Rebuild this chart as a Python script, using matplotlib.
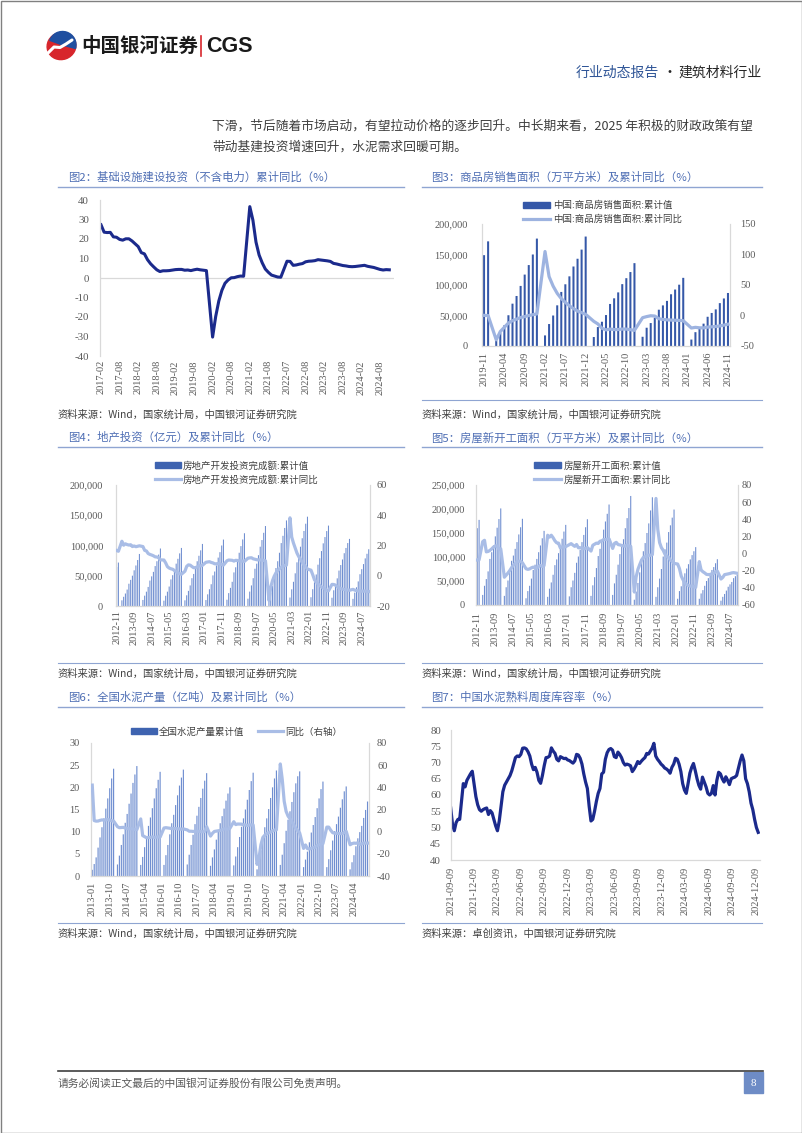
import numpy as np
import matplotlib
matplotlib.use('Agg')
import matplotlib.pyplot as plt
from matplotlib.patches import Rectangle, Wedge, Ellipse
from matplotlib.lines import Line2D

plt.rcParams['font.family'] = ['Noto Sans CJK SC', 'DejaVu Sans']
plt.rcParams['axes.unicode_minus'] = False

W, H = 802, 1133
NUM_FONT = 'Liberation Serif'
GRID_GREY = '#D9D9D9'
TICK_GREY = '#595959'
TITLE_BLUE = '#4E6EB4'
RULE_BLUE = '#8FA5D2'
BAR_LIGHT = '#6F8ED0'

# ---------------- data ----------------
# 图2 infrastructure (ex power) cumulative yoy, 2017-02 .. 2024-11, None = January (not published)
infra_yoy = [
    27.3, 23.5, 23.3, 23.4, 21.1, 20.9, 19.8, 19.4, 20.1, 20.1, 19.0,
    None, 16.1, 13.0, 12.4, 9.4, 7.3, 5.7, 4.2, 3.3, 3.7, 3.7, 3.8,
    None, 4.3, 4.4, 4.4, 4.0, 4.1, 3.8, 4.2, 4.5, 4.2, 4.0, 3.8,
    None, -30.3, -19.7, -11.8, -6.3, -2.7, -1.0, 0.1, 0.2, 0.7, 1.0, 0.9,
    None, 36.6, 29.7, 18.4, 11.8, 7.8, 4.6, 2.9, 1.5, 1.0, 0.5, 0.4,
    None, 8.6, 8.5, 6.5, 6.7, 7.1, 7.4, 8.3, 8.6, 8.7, 8.9, 9.4,
    None, 9.0, 8.8, 8.5, 7.5, 7.2, 6.8, 6.4, 6.2, 5.9, 5.8, 5.9,
    None, 6.3, 6.5, 6.0, 5.7, 5.4, 4.9, 4.4, 4.1, 4.3, 4.2,
]
infra_ticks = ['2017-02', '2017-08', '2018-02', '2018-08', '2019-02', '2019-08',
               '2020-02', '2020-08', '2021-02', '2021-08', '2022-07', '2022-08',
               '2023-02', '2023-08', '2024-02', '2024-08']

# 图3 commodity housing sales area, 2019-11 .. 2024-11
sales_area = [
    148905, 171558,
    None, 8475, 21978, 33973, 50420, 69404, 81994, 98486, 117073, 132674, 150011, 176086,
    None, 17363, 36007, 49979, 66672, 88635, 101179, 114193, 130332, 143041, 158034, 179433,
    None, 14709, 31046, 39768, 50738, 68923, 78178, 87890, 101422, 111179, 121250, 135837,
    None, 15133, 29946, 37636, 46440, 59515, 66563, 73949, 84806, 92579, 100509, 111735,
    None, 10566, 22668, 29252, 36642, 47916, 54160, 60015, 70284, 77930, 86924,
]
sales_yoy = [
    0.2, -0.1,
    None, -39.9, -26.3, -19.3, -12.3, -8.4, -6.0, -3.3, -1.8, 0.0, 1.3, 2.6,
    None, 104.9, 63.8, 48.1, 36.3, 27.7, 21.5, 15.9, 11.3, 7.3, 4.8, 1.9,
    None, -9.6, -13.8, -20.9, -23.6, -22.2, -23.1, -23.0, -22.2, -22.3, -23.3, -24.3,
    None, -3.6, -1.8, -0.4, -0.9, -5.3, -6.5, -7.1, -7.5, -7.8, -8.0, -8.5,
    None, -20.5, -19.4, -20.2, -20.3, -19.0, -18.6, -18.0, -17.1, -15.8, -14.3,
]
sales_ticks = ['2019-11', '2020-04', '2020-09', '2021-02', '2021-07', '2021-12', '2022-05',
               '2022-10', '2023-03', '2023-08', '2024-01', '2024-06', '2024-11']

# 图4 real estate investment, 2012-11 .. 2024-11
re_inv = [
    64469, 71804,
    None, 9378, 15227, 20641, 27160, 36828, 43168, 50120, 59000, 67000, 76000, 86013,
    None, 10009, 17064, 23670, 31523, 42019, 48985, 56423, 66000, 74000, 85000, 95036,
    None, 8786, 16914, 23669, 32167, 43955, 50960, 58331, 70000, 78000, 87000, 95979,
    None, 9387, 17677, 25000, 34000, 46000, 53000, 62000, 74000, 83000, 92000, 102581,
    None, 9854, 19292, 27732, 36000, 50610, 57000, 67000, 80000, 89000, 100000, 109799,
    None, 10357, 21291, 30000, 40000, 55531, 64000, 74000, 88000, 99000, 110000, 120264,
    None, 12090, 23803, 34000, 46000, 61609, 70000, 84000, 98000, 109000, 121000, 132194,
    None, 10115, 21963, 33000, 45920, 62780, 74000, 88000, 104000, 116000, 129000, 141443,
    None, 13986, 27576, 40000, 54000, 72179, 84000, 98000, 112000, 124000, 136000, 147602,
    None, 14499, 27765, 39154, 52134, 68314, 79000, 90809, 103559, 113945, 123863, 132895,
    None, 13669, 25974, 35514, 45701, 58550, 67717, 76900, 87269, 95922, 104045, 110913,
    None, 11842, 22082, 30928, 40632, 52529, 60877, 69284, 78680, 86309, 93836,
]
re_yoy = [
    16.7, 16.2,
    None, 22.8, 20.2, 21.1, 20.6, 20.3, 20.5, 19.3, 19.7, 19.2, 19.5, 19.8,
    None, 19.3, 16.8, 16.4, 14.7, 14.1, 13.7, 13.2, 12.5, 12.4, 11.9, 10.5,
    None, 10.4, 8.5, 6.0, 5.1, 4.6, 4.3, 3.5, 2.6, 2.0, 1.3, 1.0,
    None, 3.0, 6.2, 7.2, 7.0, 6.1, 5.3, 5.4, 5.8, 6.6, 6.5, 6.9,
    None, 8.9, 9.1, 9.3, 8.8, 8.5, 7.9, 7.9, 8.1, 7.8, 7.5, 7.0,
    None, 9.9, 10.4, 10.3, 10.2, 9.7, 10.2, 10.1, 9.9, 9.7, 9.7, 9.5,
    None, 11.6, 11.8, 11.9, 11.2, 10.9, 10.6, 10.5, 10.5, 10.3, 10.2, 9.9,
    None, -16.3, -7.7, -3.3, -0.3, 1.9, 3.4, 4.6, 5.6, 6.3, 6.8, 7.0,
    None, 38.3, 25.6, 21.6, 18.3, 15.0, 12.7, 10.9, 8.8, 7.2, 6.0, 4.4,
    None, 3.7, 0.7, -2.7, -4.0, -5.4, -6.4, -7.4, -8.0, -8.8, -9.8, -10.0,
    None, -5.7, -5.8, -6.2, -7.2, -7.9, -8.5, -8.8, -9.1, -9.3, -9.4, -9.6,
    None, -9.0, -9.5, -9.8, -10.1, -10.1, -10.2, -10.2, -10.1, -10.3, -10.4,
]
decade_ticks = ['2012-11', '2013-09', '2014-07', '2015-05', '2016-03', '2017-01', '2017-11',
                '2018-09', '2019-07', '2020-05', '2021-03', '2022-01', '2022-11', '2023-09', '2024-07']

# 图5 new housing starts, 2012-11 .. 2024-11
starts_area = [
    160000, 177334,
    None, 21000, 40000, 54000, 70000, 96000, 110000, 124000, 143000, 161000, 179000, 201208,
    None, 19000, 37000, 51000, 68000, 92000, 103000, 117000, 131000, 147000, 162000, 179592,
    None, 14000, 29000, 40000, 55000, 73000, 84000, 96000, 110000, 124000, 139000, 154454,
    None, 17000, 34000, 47000, 63000, 83000, 95000, 108000, 123000, 138000, 153000, 166928,
    None, 18000, 37000, 51000, 67000, 88000, 101000, 115000, 131000, 146000, 162000, 178654,
    None, 19000, 41000, 58000, 77000, 102000, 117000, 135000, 157000, 174000, 190000, 209342,
    None, 21000, 45000, 63000, 84000, 106000, 121000, 137000, 160000, 181000, 202000, 227154,
    None, 11000, 28000, 46000, 68000, 97000, 112000, 129000, 150000, 170000, 197000, 224433,
    None, 17000, 37000, 55000, 75000, 101000, 116000, 130000, 152000, 166000, 182000, 198895,
    None, 13000, 29000, 39000, 51000, 66000, 76000, 85000, 95000, 104000, 112000, 120587,
    None, 13000, 24000, 31000, 40000, 50000, 56000, 63000, 73000, 79000, 87000, 95376,
    None, 9000, 17000, 23000, 30000, 38000, 43000, 48000, 56000, 60000, 63000,
]
starts_yoy = [
    -7.5, -7.3,
    None, 14.0, 15.5, 2.0, 2.5, 3.7, 5.5, 7.6, 8.9, 9.0, 5.0, 5.5,
    None, -27.6, -25.2, -22.7, -19.8, -16.4, -13.3, -12.1, -9.3, -8.9, -9.0, -10.7,
    None, -17.7, -18.4, -17.9, -16.6, -15.8, -16.8, -16.8, -15.0, -13.9, -15.0, -14.0,
    None, 21.4, 19.2, 21.4, 18.5, 14.9, 12.5, 12.2, 6.7, 7.7, 7.6, 8.1,
    None, 10.4, 11.6, 9.9, 8.4, 10.6, 6.8, 6.7, 7.0, 5.6, 6.0, 7.0,
    None, 2.9, 9.7, 10.9, 12.2, 11.8, 14.4, 14.9, 16.4, 16.3, 16.8, 17.2,
    None, 6.0, 11.9, 13.1, 10.5, 10.1, 9.5, 8.9, 8.6, 10.0, 8.6, 8.5,
    None, -44.9, -27.2, -18.4, -12.8, -7.6, -4.5, -3.6, -3.4, -1.8, -2.0, -1.2,
    None, 64.3, 28.2, 12.8, 6.9, 3.8, -0.9, -3.2, -4.5, -7.7, -9.1, -11.4,
    None, -12.2, -17.5, -26.3, -30.6, -34.4, -36.1, -37.2, -38.0, -37.8, -38.9, -39.4,
    None, -9.4, -19.2, -21.2, -22.6, -24.3, -24.5, -24.4, -23.4, -23.2, -21.2, -20.4,
    None, -29.7, -27.8, -24.6, -24.2, -23.7, -23.2, -22.5, -22.2, -22.6, -23.0,
]

# 图6 cement output (100m t), 2013-01 .. 2024-11
cement_out = [
    1.4, 2.7, 4.2, 6.4, 8.7, 11.0, 13.0, 15.2, 17.5, 19.8, 22.0, 24.2,
    None, 2.6, 4.6, 7.0, 9.4, 12.0, 14.0, 16.3, 18.6, 21.0, 22.9, 24.8,
    None, 2.5, 4.3, 6.5, 8.8, 11.3, 13.2, 15.3, 17.5, 19.8, 21.7, 23.5,
    None, 2.5, 4.7, 7.0, 9.4, 11.9, 13.8, 16.0, 18.2, 20.4, 22.2, 24.0,
    None, 2.6, 4.8, 7.0, 9.3, 11.7, 13.6, 15.6, 17.6, 19.7, 21.5, 23.2,
    None, 2.3, 4.2, 6.0, 8.2, 10.3, 11.9, 13.5, 15.2, 17.0, 18.6, 20.0,
    None, 2.4, 4.4, 6.5, 8.8, 11.1, 13.0, 15.0, 17.2, 19.4, 21.4, 23.3,
    None, 1.5, 3.5, 5.8, 8.4, 11.0, 13.0, 15.1, 17.6, 20.0, 22.0, 23.8,
    None, 2.5, 4.8, 7.4, 10.2, 12.7, 14.6, 16.7, 18.9, 20.9, 22.5, 23.6,
    None, 2.0, 3.7, 5.5, 7.6, 9.8, 11.5, 13.3, 15.3, 17.5, 19.6, 21.3,
    None, 2.0, 3.8, 5.8, 8.0, 10.1, 11.7, 13.4, 15.4, 17.3, 19.1, 20.2,
    None, 1.5, 3.1, 4.7, 6.7, 8.5, 9.9, 11.3, 13.1, 14.9, 16.8,
]
cement_yoy = [
    42.0, 10.0, 9.5, 9.6, 10.2, 10.6, 10.4, 10.7, 11.0, 10.5, 9.8, 9.6,
    None, 4.5, 3.6, 3.7, 3.9, 3.3, 2.9, 2.5, 2.8, 2.3, 2.0, 1.8,
    None, 11.5, -3.5, -4.5, -5.5, -5.3, -5.2, -4.7, -5.2, -4.9, -4.7, -4.9,
    None, 3.3, 3.6, 3.4, 3.1, 2.8, 2.7, 2.9, 2.6, 2.5, 2.3, 2.5,
    None, 1.6, 0.4, 0.4, 0.2, 0.4, 0.5, 0.3, 0.0, -0.1, 0.2, 4.5,
    None, -4.0, -1.5, 0.2, 0.5, 0.9, 1.1, 1.6, 2.6, 2.5, 2.3, 3.0,
    None, 9.0, 6.4, 6.9, 6.9, 6.8, 6.1, 6.0, 5.6, 6.0, 6.1, 6.1,
    None, -29.5, -23.9, -11.9, -5.2, -3.2, -1.8, -1.1, -0.3, 0.7, 1.4, 1.6,
    None, 61.1, 47.3, 27.5, 18.3, 14.1, 11.6, 8.7, 6.0, 2.9, 0.9, -1.2,
    None, -15.1, -12.0, -15.3, -15.6, -15.0, -14.5, -14.0, -12.5, -11.8, -11.2, -10.8,
    None, 4.1, 4.1, 1.3, -0.9, -1.4, -1.4, -1.7, -1.7, -1.8, -0.7, 0.3,
    None, -11.8, -10.8, -10.3, -10.5, -10.0, -11.5, -11.0, -10.3, -10.3, -10.3,
]
cement_ticks = ['2013-01', '2013-10', '2014-07', '2015-04', '2016-01', '2016-10', '2017-07', '2018-04',
                '2019-01', '2019-10', '2020-07', '2021-04', '2022-01', '2022-10', '2023-07', '2024-04']

# 图7 weekly clinker inventory ratio (%), weekly from 2021-09-09
clinker_ratio = [
    56, 51, 49, 51.5, 52.5, 52.5, 58, 63.5, 62.5, 64.5, 65.5, 66.5, 67.3, 63.5, 59.5, 57,
    55.5, 55, 55.5, 55.8, 56, 54, 55.2, 54.5, 52.5, 50.5, 49, 52, 56.5, 61, 63, 64,
    65, 66, 67.5, 69.5, 71.5, 72, 71.8, 72.5, 74.4, 74.5, 74.2, 73.3, 72, 69.5, 67.8, 68.5,
    67, 64.5, 63.6, 66, 69, 71.5, 71.6, 72, 74.5, 73.5, 72.8, 71, 70.5, 71.8, 71.5, 71.2,
    71.3, 70.8, 70.6, 70.2, 69.8, 70.5, 72.5, 72.3, 71.3, 69.5, 66.5, 64, 62, 56.5, 52, 52.5,
    55, 58, 60.5, 62, 66.5, 67, 71, 73, 74, 74.3, 73.8, 71.8, 71.5, 73.2, 72.5, 71.5,
    70, 69.2, 69.5, 69.3, 69, 67.2, 68, 69, 70.3, 69.7, 70.4, 71, 71.5, 72.8, 72.6, 73.5,
    74.4, 75.9, 72, 71, 70.3, 69.5, 69, 68.3, 68, 67.5, 66.7, 68.5, 69.5, 71.3, 71, 69.5,
    67.2, 63.5, 61.5, 60.5, 63.5, 66.7, 68.5, 69.7, 67.5, 65, 63, 61.8, 65.5, 64, 62.5, 60.5,
    60, 60.5, 62.9, 60, 64.5, 67, 66.5, 65, 64, 65.6, 64.5, 63.2, 65, 65.3, 65.5, 66,
    68.2, 70.5, 72.3, 70.5, 65, 63.5, 61, 57.5, 55.5, 52.5, 50, 48.5,
]
clinker_start = '2021-09-09'
clinker_ticks = ['2021-09-09', '2021-12-09', '2022-03-09', '2022-06-09', '2022-09-09', '2022-12-09',
                 '2023-03-09', '2023-06-09', '2023-09-09', '2023-12-09', '2024-03-09', '2024-06-09',
                 '2024-09-09', '2024-12-09']


# ---------------- helpers ----------------
def px_rect(x0, y0, x1, y1):
    return [x0 / W, 1 - y1 / H, (x1 - x0) / W, (y1 - y0) / H]


def plot_connected(ax, x, y, **kw):
    y = np.array(y, dtype=float)
    m = ~np.isnan(y)
    ax.plot(np.asarray(x)[m], y[m], **kw)


def bars(ax, x, v, **kw):
    v = np.array(v, dtype=float)
    m = ~np.isnan(v)
    ax.bar(np.asarray(x)[m], v[m], snap=False, linewidth=0, **kw)


def num_labels(ax, ticks, fmt='{:,.0f}', size=7.5, pad=3):
    ax.set_yticks(ticks)
    ax.set_yticklabels([fmt.format(t) for t in ticks], fontfamily=NUM_FONT, fontsize=size, color=TICK_GREY)
    ax.tick_params(axis='y', length=0, pad=pad)


def right_labels(ax2, ticks, pad):
    ax2.set_yticks(ticks)
    ax2.set_yticklabels([str(t) for t in ticks], fontfamily=NUM_FONT, fontsize=7.5, color=TICK_GREY)
    ax2.tick_params(axis='y', length=0, pad=pad)


def month_axis(ax, n, step, labels, pad=4):
    ax.set_xticks(range(0, n, step))
    ax.set_xticklabels(labels, rotation=90, fontfamily=NUM_FONT, fontsize=7.5, color=TICK_GREY)
    ax.tick_params(axis='x', length=0, pad=pad)
    ax.set_xlim(-0.6, n - 0.4)


def frame(ax, sides):
    for s in ax.spines:
        ax.spines[s].set_visible(s in sides)
        ax.spines[s].set_color(GRID_GREY)
        ax.spines[s].set_linewidth(0.9)


def legend(ax, handles, labels, x, y, ncol=1, hl=2.9, colsp=1.4):
    ax.legend(handles, labels, loc='upper left', bbox_to_anchor=(x / W, 1 - y / H),
              bbox_transform=fig.transFigure, frameon=False, fontsize=6.8, ncol=ncol,
              handlelength=hl, handleheight=0.6, handletextpad=0.25, labelspacing=0.45,
              borderpad=0, borderaxespad=0, columnspacing=colsp, labelcolor='#404040')


fig = plt.figure(figsize=(W / 100, H / 100), dpi=100)
page = fig.add_axes([0, 0, 1, 1])
page.set_xlim(0, W)
page.set_ylim(H, 0)
page.axis('off')

# page frame
page.add_patch(Rectangle((0.5, 0.5), W - 1, H - 1, fill=False, edgecolor='#808080', lw=1))

# logo
page.add_patch(Ellipse((61.5, 46), 29, 27, angle=-20, color='#D7262C'))
page.add_patch(Wedge((62.5, 45), 13.5, -160, 15, color='#1F4FA0'))
page.plot([48, 54, 60, 66, 72], [53, 47, 47.5, 44, 40], color='white', lw=2.2, solid_capstyle='round')
page.text(81, 46, '中国银河证券', fontsize=14, fontweight='bold', color='#1A1A1A', va='center')
page.plot([200.5, 200.5], [36, 56], color='#D7262C', lw=1.2)
page.text(206, 46.5, 'CGS', fontsize=15.5, fontweight='bold', color='#1A1A1A', va='center',
          family='Liberation Sans')

# header
page.text(659, 73, '行业动态报告', fontsize=10, color='#2F5597', ha='right', va='center')
page.text(669, 73, '·', fontsize=10, color='#262626', ha='center', va='center')
page.text(762, 73, '建筑材料行业', fontsize=10, color='#262626', ha='right', va='center')

# body text
page.text(212, 126, '下滑，节后随着市场启动，有望拉动价格的逐步回升。中长期来看，2025 年积极的财政政策有望',
          fontsize=9.15, color='#3F3F3F', va='center')
page.text(212, 147, '带动基建投资增速回升，水泥需求回暖可期。', fontsize=9.15, color='#3F3F3F', va='center')

# titles, rules and sources
cols = [(58, 68, 404), (422, 431, 762)]
rows = [(177, 187, 400, 415), (437.5, 447, 663, 674), (697.5, 707, 923, 934)]
titles = [['图2：基础设施建设投资（不含电力）累计同比（%）', '图3：商品房销售面积（万平方米）及累计同比（%）'],
          ['图4：地产投资（亿元）及累计同比（%）', '图5：房屋新开工面积（万平方米）及累计同比（%）'],
          ['图6：全国水泥产量（亿吨）及累计同比（%）', '图7：中国水泥熟料周度库容率（%）']]
src_main = '资料来源：Wind，国家统计局，中国银河证券研究院'
sources = [[src_main, src_main], [src_main, src_main], [src_main, '资料来源：卓创资讯，中国银河证券研究院']]
for ri, (ty, uy, sy, sty) in enumerate(rows):
    for ci, (lx, tx, rx) in enumerate(cols):
        page.text(tx, ty, titles[ri][ci], fontsize=8.2, color=TITLE_BLUE, va='center')
        page.plot([lx, rx], [uy, uy], color=RULE_BLUE, lw=1.0)
        if not (ri == 0 and ci == 0):
            page.plot([lx, rx], [sy, sy], color=RULE_BLUE, lw=0.8)
        page.text(lx, sty, sources[ri][ci], fontsize=7.4, color='#404040', va='center')

# footer
page.plot([58, 763], [1071, 1071], color='#404040', lw=1.2)
page.text(58, 1083, '请务必阅读正文最后的中国银河证券股份有限公司免责声明。', fontsize=7.75, color='#595959',
          va='center')
page.add_patch(Rectangle((744, 1072), 19, 21, color='#6E8CC6'))
page.text(753.5, 1083, '8', fontsize=8, color='white', ha='center', va='center', family=NUM_FONT)

# ---- 图2 ----
ax = fig.add_axes(px_rect(100.07, 200, 393.95, 356))
x = np.arange(len(infra_yoy))
plot_connected(ax, x, infra_yoy, color='#1B2A8C', lw=2.2)
ax.axhline(0, color=GRID_GREY, lw=0.9, zorder=0)
ax.set_ylim(-40, 40)
frame(ax, ['left'])
num_labels(ax, list(range(40, -41, -10)), fmt='{:.0f}', size=7.8, pad=8)
month_axis(ax, 94, 6, infra_ticks, pad=3)
ax.set_xlim(-0.3, 94.5)

# ---- 图3 ----
ax = fig.add_axes(px_rect(481.6, 224, 730.4, 346))
x = np.arange(len(sales_area))
bars(ax, x, sales_area, width=0.5, color='#3558A8')
ax.set_ylim(0, 200000)
frame(ax, ['left', 'right', 'bottom'])
num_labels(ax, [0, 50000, 100000, 150000, 200000], pad=10)
month_axis(ax, len(sales_area), 5, sales_ticks, pad=4)
ax2 = ax.twinx()
plot_connected(ax2, x, sales_yoy, color='#9DB3E0', lw=2.3)
ax2.set_ylim(-50, 150)
frame(ax2, [])
right_labels(ax2, [-50, 0, 50, 100, 150], pad=7)
legend(ax2, [Rectangle((0, 0), 1, 1, color='#3558A8'), Line2D([], [], color='#9DB3E0', lw=2.3)],
       ['中国:商品房销售面积:累计值', '中国:商品房销售面积:累计同比'], 523, 201)

# ---- 图4 ----
ax = fig.add_axes(px_rect(115.6, 485, 369.8, 606))
x = np.arange(len(re_inv))
bars(ax, x, re_inv, width=0.6, color=BAR_LIGHT)
ax.set_ylim(0, 200000)
frame(ax, ['left', 'right', 'bottom'])
num_labels(ax, [0, 50000, 100000, 150000, 200000], pad=9)
month_axis(ax, len(re_inv), 10, decade_ticks, pad=3)
ax2 = ax.twinx()
plot_connected(ax2, x, re_yoy, color='#A9BDE6', lw=2.3)
ax2.set_ylim(-20, 60)
frame(ax2, [])
right_labels(ax2, list(range(-20, 61, 20)), pad=5)
legend(ax2, [Rectangle((0, 0), 1, 1, color='#3E63B0'), Line2D([], [], color='#A9BDE6', lw=2.3)],
       ['房地产开发投资完成额:累计值', '房地产开发投资完成额:累计同比'], 155, 461, hl=2.7)

# ---- 图5 ----
ax = fig.add_axes(px_rect(476.2, 485, 738.3, 605))
x = np.arange(len(starts_area))
bars(ax, x, starts_area, width=0.6, color=BAR_LIGHT)
ax.set_ylim(0, 250000)
frame(ax, ['left', 'right', 'bottom'])
num_labels(ax, [0, 50000, 100000, 150000, 200000, 250000], pad=8)
month_axis(ax, len(starts_area), 10, decade_ticks, pad=5)
ax2 = ax.twinx()
plot_connected(ax2, x, starts_yoy, color='#A9BDE6', lw=2.3)
ax2.set_ylim(-60, 80)
frame(ax2, [])
right_labels(ax2, list(range(-60, 81, 20)), pad=2.5)
legend(ax2, [Rectangle((0, 0), 1, 1, color='#3E63B0'), Line2D([], [], color='#A9BDE6', lw=2.3)],
       ['房屋新开工面积:累计值', '房屋新开工面积:累计同比'], 534, 461, hl=2.9)

# ---- 图6 ----
ax = fig.add_axes(px_rect(91.1, 743, 368.7, 876))
x = np.arange(len(cement_out))
bars(ax, x, cement_out, width=0.6, color=BAR_LIGHT)
ax.set_ylim(0, 30)
frame(ax, ['left', 'right', 'bottom'])
num_labels(ax, [0, 5, 10, 15, 20, 25, 30], fmt='{:.0f}', pad=8)
month_axis(ax, len(cement_out), 9, cement_ticks, pad=4)
ax2 = ax.twinx()
plot_connected(ax2, x, cement_yoy, color='#A9BDE6', lw=2.3)
ax2.set_ylim(-40, 80)
frame(ax2, [])
right_labels(ax2, list(range(-40, 81, 20)), pad=6)
legend(ax2, [Rectangle((0, 0), 1, 1, color='#3E63B0'), Line2D([], [], color='#A9BDE6', lw=2.3)],
       ['全国水泥产量累计值', '同比（右轴）'], 131, 727, ncol=2, hl=2.7, colsp=1.4)

# ---- 图7 ----
ax = fig.add_axes(px_rect(450.7, 730, 760, 860))
dates = np.datetime64(clinker_start) + np.arange(len(clinker_ratio)) * np.timedelta64(7, 'D')
ax.plot(dates, clinker_ratio, color='#1B2A8C', lw=2.3)
ax.set_ylim(40, 80)
ax.set_xlim(np.datetime64(clinker_start), np.datetime64(clinker_start) + np.timedelta64(1204, 'D'))
frame(ax, ['left', 'bottom'])
num_labels(ax, list(range(40, 81, 5)), fmt='{:.0f}', size=7.8, pad=7)
ax.set_xticks([np.datetime64(t) for t in clinker_ticks])
ax.set_xticklabels(clinker_ticks, rotation=90, fontfamily=NUM_FONT, fontsize=7.5, color=TICK_GREY)
ax.tick_params(axis='x', length=0, pad=5)

fig.savefig('out.png', dpi=100)
